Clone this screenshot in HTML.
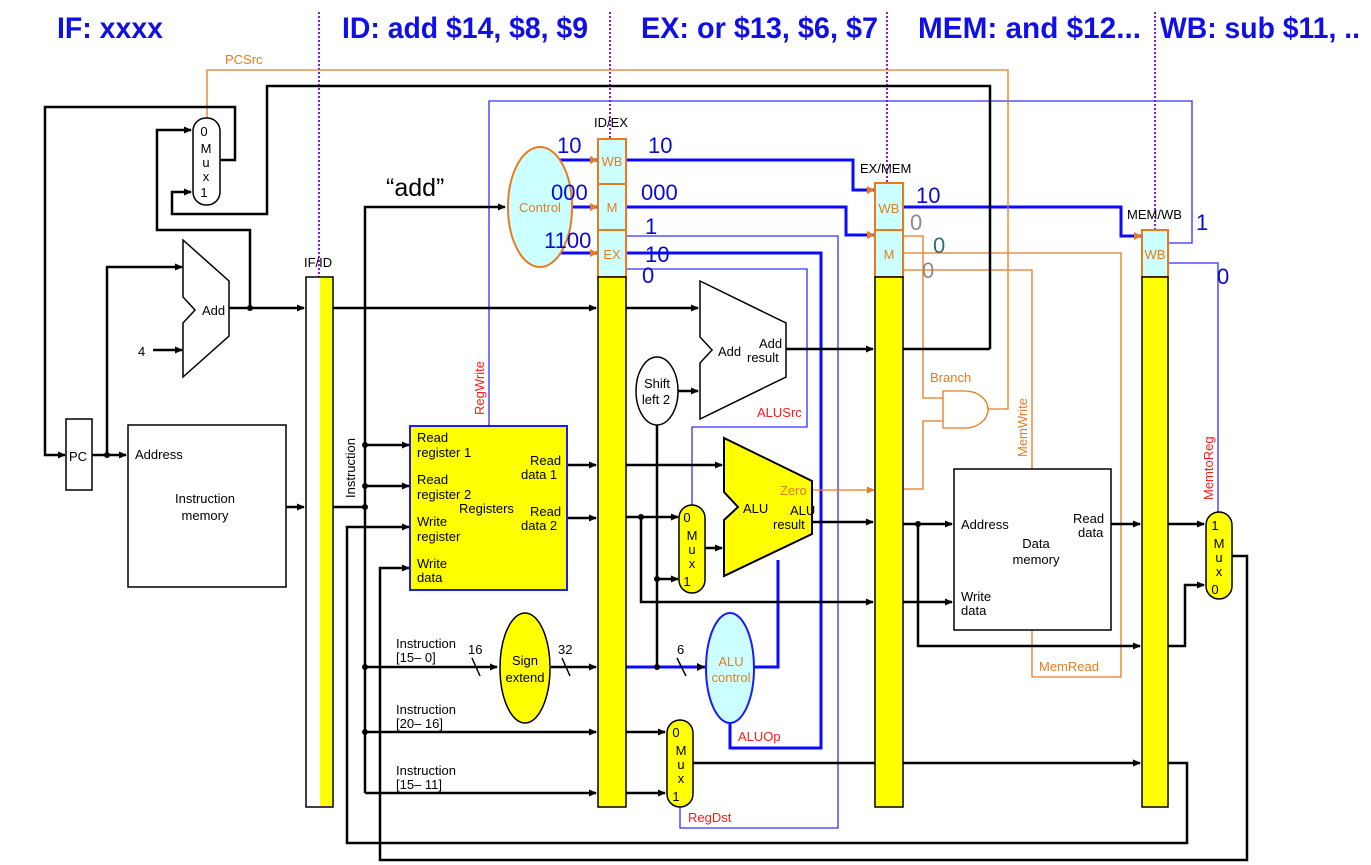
<!DOCTYPE html>
<html><head><meta charset="utf-8"><style>
html,body{margin:0;padding:0;background:#fff;}
svg{display:block;font-family:"Liberation Sans",sans-serif;}
</style></head><body>
<svg width="1371" height="865" viewBox="0 0 1371 865" xmlns="http://www.w3.org/2000/svg">
<defs>
<marker id="ak" markerWidth="8" markerHeight="8" refX="7" refY="4" orient="auto" markerUnits="userSpaceOnUse"><path d="M0,0.5 L8,4 L0,7.5z" fill="#000"/></marker>
<marker id="ao" markerWidth="8" markerHeight="8" refX="7" refY="4" orient="auto" markerUnits="userSpaceOnUse"><path d="M0,0.5 L8,4 L0,7.5z" fill="#e87b1e"/></marker>
</defs>
<!-- headers -->
<g font-weight="bold" font-size="30" fill="#1010e6">
<text x="57" y="38" textLength="106" lengthAdjust="spacingAndGlyphs">IF: xxxx</text>
<text x="342" y="38" textLength="246" lengthAdjust="spacingAndGlyphs">ID: add $14, $8, $9</text>
<text x="641" y="38" textLength="237" lengthAdjust="spacingAndGlyphs">EX: or $13, $6, $7</text>
<text x="918" y="38" textLength="223" lengthAdjust="spacingAndGlyphs">MEM: and $12...</text>
<text x="1160" y="38" textLength="200" lengthAdjust="spacingAndGlyphs">WB: sub $11, ..</text>
</g>
<!-- dotted purple -->
<g stroke="#7a1fd6" stroke-width="2" stroke-dasharray="2,2" fill="none">
<line x1="319" y1="12" x2="319" y2="282"/>
<line x1="610" y1="12" x2="610" y2="142"/>
<line x1="887" y1="12" x2="887" y2="186"/>
<line x1="1155" y1="12" x2="1155" y2="232"/>
</g>

<!-- thin blue control lines -->
<g stroke="#3030ff" stroke-width="1.3" fill="none">
<polyline points="489,426 489,101 1192,101 1192,243 1168,243"/>
<polyline points="626,236 838,236 838,828 680,828 680,807"/>
<polyline points="626,269 807,269 807,427 692,427 692,505"/>
<polyline points="1168,263 1218,263 1218,513"/>
</g>
<!-- thick blue -->
<g stroke="#0a0aff" stroke-width="3" fill="none">
<polyline points="556,160 598,160"/>
<polyline points="556,207 598,207"/>
<polyline points="556,253 598,253"/>
<polyline points="626,160 853,160 853,190 875,190"/>
<polyline points="626,207 846,207 846,235 875,235"/>
<polyline points="626,253 821,253 821,748 730,748 730,723"/>
<polyline points="903,207 1121,207 1121,236 1142,236"/>
<polyline points="626,667 705,667"/>
<polyline points="754,667 778,667 778,560"/>
</g>
<g fill="#e87b1e">
<path d="M590,156 L598,160 L590,164z"/><path d="M590,203 L598,207 L590,211z"/><path d="M590,249 L598,253 L590,257z"/>
<path d="M867,186 L875,190 L867,194z"/><path d="M867,231 L875,235 L867,239z"/><path d="M1134,232 L1142,236 L1134,240z"/>
</g>
<path d="M697,663 L705,667 L697,671z" fill="#000"/>

<!-- orange lines -->
<g stroke="#e87b1e" stroke-width="1.3" fill="none">
<polyline points="207,118 207,70 1008,70 1008,409 988,409"/>
<polyline points="903,236 923,236 923,398 943,398"/>
<polyline points="903,489 923,489 923,421 943,421"/>
<polyline points="903,253 1121,253 1121,677 1032,677 1032,630"/>
<polyline points="903,270 1032,270 1032,469"/>
<line x1="812" y1="490" x2="874" y2="490" marker-end="url(#ao)"/>
<path d="M943,391 L965,391 A23,18.5 0 0 1 965,428 L943,428 Z"/>
</g>

<!-- black wires -->
<g stroke="#000" stroke-width="2.5" fill="none">
<polyline points="990,349 990,86 267,86 267,214 172,214 172,192 191,192" marker-end="url(#ak)"/>
<polyline points="220,160 235,160 235,107 45,107 45,455 65,455" marker-end="url(#ak)"/>
<polyline points="250,308 250,230 157,230 157,130 191,130" marker-end="url(#ak)"/>
<line x1="92" y1="455" x2="126" y2="455" marker-end="url(#ak)"/>
<polyline points="107,455 107,267 182,267" marker-end="url(#ak)"/>
<line x1="153" y1="350" x2="182" y2="350" marker-end="url(#ak)"/>
<line x1="229" y1="308" x2="304" y2="308" marker-end="url(#ak)"/>
<line x1="286" y1="507" x2="304" y2="507" marker-end="url(#ak)"/>
<line x1="333" y1="308" x2="596" y2="308" marker-end="url(#ak)"/>
<polyline points="333,507 365,507"/>
<polyline points="365,793 365,207 505,207" marker-end="url(#ak)"/>
<line x1="365" y1="445" x2="409" y2="445" marker-end="url(#ak)"/>
<line x1="365" y1="486" x2="409" y2="486" marker-end="url(#ak)"/>
<line x1="365" y1="667" x2="497" y2="667" marker-end="url(#ak)"/>
<line x1="551" y1="667" x2="596" y2="667" marker-end="url(#ak)"/>
<line x1="365" y1="732" x2="596" y2="732" marker-end="url(#ak)"/>
<line x1="365" y1="793" x2="596" y2="793" marker-end="url(#ak)"/>
<polyline points="1168,763 1187,763 1187,843 347,843 347,527 409,527" marker-end="url(#ak)"/>
<polyline points="1232,556 1247,556 1247,860 380,860 380,568 409,568" marker-end="url(#ak)"/>
<line x1="567" y1="465" x2="596" y2="465" marker-end="url(#ak)"/>
<line x1="567" y1="518" x2="596" y2="518" marker-end="url(#ak)"/>
<line x1="626" y1="465" x2="722" y2="465" marker-end="url(#ak)"/>
<line x1="626" y1="517" x2="678" y2="517" marker-end="url(#ak)"/>
<polyline points="641,517 641,602 873,602" marker-end="url(#ak)"/>
<line x1="657" y1="424" x2="657" y2="667"/>
<line x1="657" y1="579" x2="678" y2="579" marker-end="url(#ak)"/>
<line x1="705" y1="548" x2="722" y2="548" marker-end="url(#ak)"/>
<line x1="626" y1="308" x2="698" y2="308" marker-end="url(#ak)"/>
<line x1="678" y1="391" x2="698" y2="391" marker-end="url(#ak)"/>
<line x1="786" y1="349" x2="873" y2="349" marker-end="url(#ak)"/>
<line x1="903" y1="349" x2="990" y2="349"/>
<line x1="812" y1="522" x2="873" y2="522" marker-end="url(#ak)"/>
<line x1="903" y1="524" x2="952" y2="524" marker-end="url(#ak)"/>
<line x1="903" y1="602" x2="952" y2="602" marker-end="url(#ak)"/>
<polyline points="918,524 918,646 1140,646" marker-end="url(#ak)"/>
<line x1="1111" y1="524" x2="1140" y2="524" marker-end="url(#ak)"/>
<line x1="626" y1="732" x2="665" y2="732" marker-end="url(#ak)"/>
<line x1="626" y1="793" x2="665" y2="793" marker-end="url(#ak)"/>
<line x1="693" y1="763" x2="1140" y2="763" marker-end="url(#ak)"/>
<line x1="1168" y1="524" x2="1204" y2="524" marker-end="url(#ak)"/>
<polyline points="1168,646 1185,646 1185,585 1204,585" marker-end="url(#ak)"/>
</g>
<!-- slashes -->
<g stroke="#000" stroke-width="1.5"><line x1="472" y1="658" x2="480" y2="676"/><line x1="562" y1="658" x2="570" y2="676"/><line x1="677" y1="658" x2="686" y2="676"/></g>
<!-- dots -->
<g fill="#000">
<circle cx="250" cy="308" r="3"/><circle cx="107" cy="455" r="3"/><circle cx="365" cy="445" r="3"/><circle cx="365" cy="486" r="3"/><circle cx="365" cy="507" r="3"/><circle cx="365" cy="667" r="3"/><circle cx="365" cy="732" r="3"/><circle cx="641" cy="517" r="3"/><circle cx="657" cy="579" r="3"/><circle cx="657" cy="667" r="3"/><circle cx="918" cy="524" r="3"/>
</g>

<!-- components -->
<rect x="193" y="118" width="27" height="87" rx="13" fill="#fff" stroke="#000" stroke-width="1.5"/>
<g font-size="13" text-anchor="middle"><text x="204" y="136">0</text><text x="206" y="153">M</text><text x="206" y="167">u</text><text x="206" y="181">x</text><text x="204" y="197">1</text></g>
<polygon points="183,240 229,281 229,336 183,377 183,323 195,310 183,297" fill="#fff" stroke="#000" stroke-width="1.5"/>
<text x="202" y="315" font-size="13">Add</text>
<text x="138" y="356" font-size="13">4</text>
<rect x="66" y="419" width="26" height="71" fill="#fff" stroke="#000" stroke-width="1.5"/>
<text x="69" y="461" font-size="13">PC</text>
<rect x="128" y="425" width="158" height="162" fill="#fff" stroke="#000" stroke-width="1.5"/>
<text x="135" y="459" font-size="13">Address</text>
<text x="205" y="503" font-size="13" text-anchor="middle">Instruction</text>
<text x="205" y="520" font-size="13" text-anchor="middle">memory</text>
<!-- IF/ID -->
<rect x="306" y="277" width="27" height="530" fill="#fff" stroke="#000" stroke-width="1.5"/>
<rect x="320" y="278" width="12" height="528" fill="#ffff00"/>
<text x="304" y="267" font-size="13">IF/ID</text>
<text transform="translate(355,498) rotate(-90)" font-size="13">Instruction</text>
<text x="386" y="196" font-size="25">“add”</text>
<!-- registers -->
<rect x="410" y="426" width="157" height="164" fill="#ffff00" stroke="#1a1aff" stroke-width="2"/>
<g font-size="13"><text x="417" y="442">Read</text><text x="417" y="457">register 1</text><text x="417" y="484">Read</text><text x="417" y="499">register 2</text><text x="417" y="526">Write</text><text x="417" y="541">register</text><text x="417" y="568">Write</text><text x="417" y="582">data</text><text x="459" y="513">Registers</text><text x="530" y="465">Read</text><text x="521" y="479">data 1</text><text x="530" y="516">Read</text><text x="521" y="530">data 2</text></g>
<text transform="translate(484,415) rotate(-90)" font-size="13" fill="#ff1a1a">RegWrite</text>
<!-- control -->
<ellipse cx="540" cy="207" rx="32" ry="60" fill="#ccffff" stroke="#e87b1e" stroke-width="2"/>
<text x="540" y="212" font-size="13" fill="#e87b1e" text-anchor="middle">Control</text>
<g font-size="22" fill="#0a0ad0"><text x="557" y="153">10</text><text x="551" y="200">000</text><text x="544" y="248">1100</text><text x="648" y="153">10</text><text x="641" y="200">000</text><text x="645" y="234">1</text><text x="645" y="262">10</text><text x="642" y="283">0</text><text x="916" y="203">10</text><text x="1196" y="230">1</text><text x="1217" y="284">0</text></g>
<g font-size="22"><text x="910" y="230" fill="#8a8a8a">0</text><text x="933" y="253" fill="#2f6f6f">0</text><text x="922" y="278" fill="#8a8a8a">0</text></g>
<!-- ID/EX -->
<g stroke="#e87b1e" stroke-width="2" fill="#ccffff"><rect x="598" y="139" width="28" height="45"/><rect x="598" y="184" width="28" height="46"/><rect x="598" y="230" width="28" height="47"/></g>
<rect x="598" y="277" width="28" height="530" fill="#ffff00" stroke="#000" stroke-width="1.5"/>
<g font-size="13" fill="#e87b1e" text-anchor="middle"><text x="612" y="166">WB</text><text x="612" y="212">M</text><text x="612" y="259">EX</text></g>
<text x="594" y="127" font-size="13">ID/EX</text>
<!-- shift left -->
<ellipse cx="657" cy="391" rx="21" ry="34" fill="#fff" stroke="#000" stroke-width="1.5"/>
<text x="657" y="388" font-size="13" text-anchor="middle">Shift</text><text x="656" y="404" font-size="13" text-anchor="middle">left 2</text>
<polygon points="700,281 786,323 786,377 700,419 700,363 712,350 700,337" fill="#fff" stroke="#000" stroke-width="1.5"/>
<text x="718" y="356" font-size="13">Add</text><text x="759" y="348" font-size="13">Add</text><text x="747" y="362" font-size="13">result</text>
<text x="757" y="417" font-size="13" fill="#ff1a1a">ALUSrc</text>
<!-- ALU -->
<polygon points="724,438 812,481 812,534 724,576 724,520 738,507 724,492" fill="#ffff00" stroke="#000" stroke-width="2"/>
<text x="743" y="513" font-size="13">ALU</text><text x="790" y="515" font-size="13">ALU</text><text x="773" y="529" font-size="13">result</text>
<text x="780" y="495" font-size="13" fill="#e87b1e">Zero</text>
<rect x="679" y="505" width="26" height="88" rx="13" fill="#ffff00" stroke="#000" stroke-width="1.5"/>
<g font-size="13" text-anchor="middle"><text x="687" y="522">0</text><text x="692" y="540">M</text><text x="692" y="554">u</text><text x="692" y="568">x</text><text x="687" y="586">1</text></g>
<!-- sign extend -->
<ellipse cx="525" cy="668" rx="25" ry="55" fill="#ffff00" stroke="#000" stroke-width="1.5"/>
<text x="525" y="665" font-size="13" text-anchor="middle">Sign</text><text x="525" y="682" font-size="13" text-anchor="middle">extend</text>
<g font-size="13"><text x="396" y="648">Instruction</text><text x="396" y="662">[15– 0]</text><text x="396" y="714">Instruction</text><text x="396" y="728">[20– 16]</text><text x="396" y="775">Instruction</text><text x="396" y="789">[15– 11]</text><text x="468" y="654">16</text><text x="558" y="654">32</text><text x="677" y="654">6</text></g>
<ellipse cx="730" cy="668" rx="24" ry="55" fill="#ccffff" stroke="#1a1aff" stroke-width="2"/>
<text x="731" y="666" font-size="13" fill="#e87b1e" text-anchor="middle">ALU</text><text x="731" y="682" font-size="13" fill="#e87b1e" text-anchor="middle">control</text>
<text x="738" y="741" font-size="13" fill="#ff1a1a">ALUOp</text>
<rect x="667" y="720" width="26" height="87" rx="13" fill="#ffff00" stroke="#000" stroke-width="1.5"/>
<g font-size="13" text-anchor="middle"><text x="676" y="737">0</text><text x="681" y="755">M</text><text x="681" y="769">u</text><text x="681" y="783">x</text><text x="676" y="801">1</text></g>
<text x="688" y="822" font-size="13" fill="#ff1a1a">RegDst</text>
<!-- EX/MEM -->
<g stroke="#e87b1e" stroke-width="2" fill="#ccffff"><rect x="875" y="183" width="28" height="47"/><rect x="875" y="230" width="28" height="47"/></g>
<rect x="875" y="277" width="28" height="530" fill="#ffff00" stroke="#000" stroke-width="1.5"/>
<g font-size="13" fill="#e87b1e" text-anchor="middle"><text x="889" y="213">WB</text><text x="889" y="259">M</text></g>
<text x="860" y="173" font-size="13">EX/MEM</text>
<text x="930" y="382" font-size="13" fill="#e87b1e">Branch</text>
<text transform="translate(1027,457) rotate(-90)" font-size="13" fill="#e87b1e">MemWrite</text>
<text x="1039" y="671" font-size="13" fill="#e87b1e">MemRead</text>
<!-- data memory -->
<rect x="954" y="469" width="157" height="161" fill="#fff" stroke="#000" stroke-width="1.5"/>
<g font-size="13"><text x="961" y="529">Address</text><text x="1036" y="548" text-anchor="middle">Data</text><text x="1036" y="564" text-anchor="middle">memory</text><text x="1073" y="523">Read</text><text x="1078" y="537">data</text><text x="961" y="601">Write</text><text x="961" y="615">data</text></g>
<!-- MEM/WB -->
<rect x="1142" y="230" width="26" height="47" fill="#ccffff" stroke="#e87b1e" stroke-width="2"/>
<rect x="1142" y="277" width="26" height="530" fill="#ffff00" stroke="#000" stroke-width="1.5"/>
<text x="1155" y="259" font-size="13" fill="#e87b1e" text-anchor="middle">WB</text>
<text x="1127" y="219" font-size="13">MEM/WB</text>
<text transform="translate(1213,500) rotate(-90)" font-size="13" fill="#ff1a1a">MemtoReg</text>
<rect x="1206" y="512" width="26" height="87" rx="13" fill="#ffff00" stroke="#000" stroke-width="1.5"/>
<g font-size="13" text-anchor="middle"><text x="1215" y="530">1</text><text x="1219" y="548">M</text><text x="1219" y="562">u</text><text x="1219" y="576">x</text><text x="1215" y="594">0</text></g>
<text x="225" y="64" font-size="13" fill="#e87b1e">PCSrc</text>
</svg>
</body></html>
